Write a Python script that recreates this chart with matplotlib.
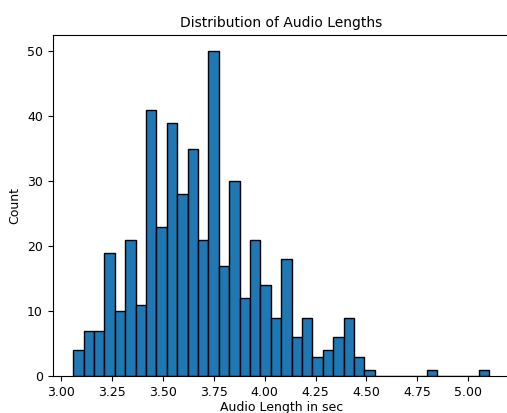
import numpy as np
import matplotlib
matplotlib.use("Agg")
import matplotlib.pyplot as plt

# histogram: 40 equal bins
min_len = 3.062
max_len = 5.102
counts = [4, 7, 7, 19, 10, 21, 11, 41, 23, 39,
          28, 35, 21, 50, 17, 30, 12, 21, 14, 9,
          18, 6, 9, 3, 4, 6, 9, 3, 1, 0,
          0, 0, 0, 0, 1, 0, 0, 0, 0, 1]

edges = np.linspace(min_len, max_len, len(counts) + 1)

plt.rcParams['font.size'] = 9
fig = plt.figure(figsize=(5.07, 4.13), dpi=100)
ax = fig.add_axes([52.5 / 507, 37 / 413, (510 - 52.5) / 507, (376 - 35) / 413])
ax.bar(edges[:-1], counts, width=np.diff(edges), align='edge',
       color='#1f77b4', edgecolor='black')
ax.set_title('Distribution of Audio Lengths', fontsize=10)
ax.set_xlabel('Audio Length in sec', labelpad=2)
ax.set_ylabel('Count')
fig.savefig('out.png', dpi=100)
